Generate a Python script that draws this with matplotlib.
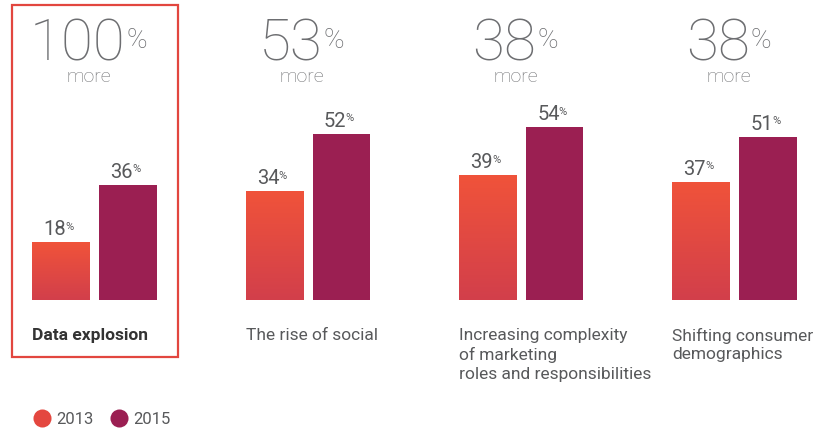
import numpy as np
import matplotlib
matplotlib.use("Agg")
import matplotlib.pyplot as plt
from matplotlib.patches import Rectangle
from matplotlib.lines import Line2D
from matplotlib.colors import LinearSegmentedColormap

# data
categories = ["Data explosion", "The rise of social",
              "Increasing complexity\nof marketing\nroles and responsibilities",
              "Shifting consumer\ndemographics"]
vals_2013 = [18, 34, 39, 37]
vals_2015 = [36, 52, 54, 51]
increase = [100, 53, 38, 38]
years = ["2013", "2015"]

plt.rcParams["font.family"] = ["Roboto", "DejaVu Sans"]

orange_top = "#f0533a"
orange_bot = "#d23f4b"
purple = "#9b1f52"
grey_big = "#6d6e71"
grey_txt = "#58595b"

fig = plt.figure(figsize=(8.23, 4.28), dpi=100)
# axis: bottom of bars at 300px from top, 3.2 px per percent
ax = fig.add_axes([0, 128 / 428, 1, 300 / 428])
ax.axis("off")

grad_cmap = LinearSegmentedColormap.from_list("og", [orange_bot, orange_top])
grad = np.linspace(0, 1, 256).reshape(-1, 1)

x = np.arange(len(categories))
w = 0.27
off = 0.157

bars13 = ax.bar(x - off, vals_2013, w, color="none", edgecolor="none")
bars15 = ax.bar(x + off, vals_2015, w, color=purple, edgecolor="none")

# gradient fill for the 2013 bars
for b in bars13:
    x0, h = b.get_x(), b.get_height()
    im = ax.imshow(grad, cmap=grad_cmap, origin="lower", aspect="auto",
                   extent=(x0, x0 + b.get_width(), 0, h), zorder=2)
    im.set_clip_path(b)
ax.set_xlim(-0.443, 3.415)
ax.set_ylim(0, 300 / 3.2)

def value_label(xc, v):
    num = ax.annotate(f"{v}", xy=(xc, v), xytext=(-4.5, 5),
                      textcoords="offset points", ha="center", va="baseline",
                      fontsize=14.5, color=grey_txt)
    ax.annotate("%", xy=(1, v), xycoords=(num, "data"), xytext=(-0.6, 9.0),
                textcoords="offset points", ha="left", va="baseline",
                fontsize=8, color=grey_txt)

for i in range(len(categories)):
    value_label(x[i] - off, vals_2013[i])
    value_label(x[i] + off, vals_2015[i])

    # headline
    num = ax.annotate(f"{increase[i]}", xy=(x[i], 75), xytext=(-12, 0),
                      textcoords="offset points", ha="center", va="baseline",
                      fontsize=42, color=grey_big, fontweight="light")
    ax.annotate("%", xy=(1, 78.75), xycoords=(num, "data"), xytext=(0.5, 0),
                textcoords="offset points", ha="left", va="baseline",
                fontsize=20, color=grey_big, fontweight="light")
    ax.annotate("more", xy=(x[i], 68.0), xytext=(-4, 0),
                textcoords="offset points", ha="center", va="baseline",
                fontsize=14, color=grey_big, fontweight="light")

    # category label
    ax.text(x[i] - off - w / 2, -8.6, categories[i], ha="left", va="top",
            fontsize=12.5, color=grey_txt if i else "#333333",
            fontweight="bold" if i == 0 else "normal", linespacing=1.32)

# highlight box around first group
fig.add_artist(Rectangle((12 / 823, (428 - 357) / 428), 166 / 823, 352 / 428,
                         transform=fig.transFigure, fill=False,
                         edgecolor="#e2463f", linewidth=1.6))

handles = [Line2D([], [], ls="none", marker="o", markersize=13,
                  markerfacecolor=c, markeredgecolor="none")
           for c in ["#e4473f", purple]]
fig.legend(handles, years, loc="center left", bbox_to_anchor=(34 / 823, 1 - 419 / 428),
           ncol=2, frameon=False, handlelength=1.0, handletextpad=0.35,
           columnspacing=1.0, fontsize=12, labelcolor=grey_txt,
           borderaxespad=0, borderpad=0)

fig.savefig("out.png", dpi=100)
